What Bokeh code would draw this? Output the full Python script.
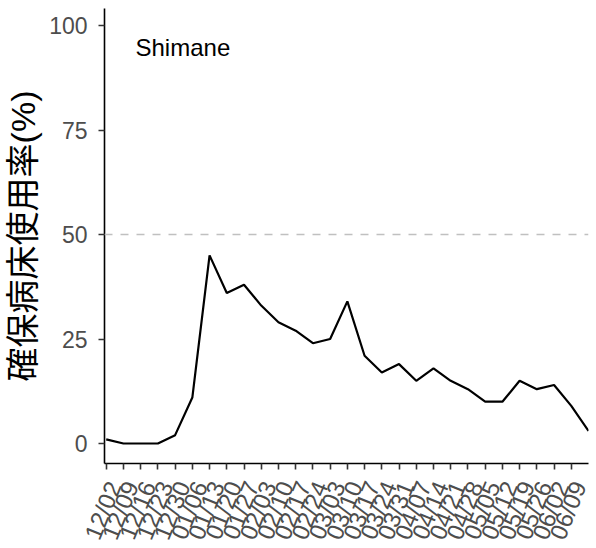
from bokeh.plotting import figure
from bokeh.models import FixedTicker, Span, Label, Range1d, LinearAxis
from bokeh.embed import file_html
from bokeh.resources import INLINE
import math

week_labels = ["12/02", "12/09", "12/16", "12/23", "12/30", "01/06", "01/13", "01/20",
               "01/27", "02/03", "02/10", "02/17", "02/24", "03/03", "03/10", "03/17",
               "03/24", "03/31", "04/07", "04/14", "04/21", "04/28", "05/05", "05/12",
               "05/19", "05/26", "06/02", "06/09"]
usage = [1, 0, 0, 0, 2, 11, 45, 36, 38, 33, 29, 27, 24, 25, 34, 21, 17, 19, 15, 18,
         15, 13, 10, 10, 15, 13, 14, 9, 3]
week_index = list(range(len(usage)))
y_ticks = [0, 25, 50, 75, 100]
threshold = 50
region = "Shimane"
y_title = "確保病床使用率(%)"

x0, x1 = -0.1, 28.0
shift = 0.46
p = figure(frame_width=484, frame_height=455, output_backend="svg", toolbar_location=None,
           x_range=Range1d(x0, x1), y_range=Range1d(-4.78, 104.07),
           min_border_left=104, min_border_right=4, min_border_top=8, min_border_bottom=0)
p.extra_x_ranges = {"lab": Range1d(x0 - shift, x1 - shift)}
p.outline_line_color = None
p.xgrid.visible = False
p.ygrid.visible = False

p.add_layout(Span(location=threshold, dimension="width", line_color="#c0c0c0",
                  line_dash="8 8", line_width=1.6))
p.line(week_index, usage, line_color="black", line_width=2.2)

p.add_layout(Label(x=1.7, y=94.7, text=region, text_font="Liberation Sans",
                   text_font_size="24px", text_color="black", text_baseline="middle"))

# y axis
ya = p.yaxis[0]
ya.axis_line_color = "black"
ya.axis_line_width = 1.6
ya.major_tick_line_color = "#333333"
ya.major_tick_line_width = 1.6
ya.major_tick_in = 0
ya.major_tick_out = 6
ya.minor_tick_line_color = None
ya.major_label_text_color = "#4d4d4d"
ya.major_label_text_font = "Liberation Sans"
ya.ticker = FixedTicker(ticks=y_ticks)
ya.major_label_text_font_size = "23px"
ya.major_label_standoff = 11
ya.axis_label = y_title
ya.axis_label_text_font = "Liberation Sans, Noto Sans CJK JP"
ya.axis_label_text_font_size = "34px"
ya.axis_label_text_font_style = "normal"
ya.axis_label_text_color = "black"
ya.axis_label_standoff = 4

# main x axis: line + tick marks only (ticks drawn as minor ticks, so no labels)
xa = p.xaxis[0]
xa.ticker = FixedTicker(ticks=[], minor_ticks=list(range(len(week_labels))))
xa.axis_line_color = "black"
xa.axis_line_width = 1.6
xa.major_tick_line_color = None
xa.minor_tick_line_color = "#333333"
xa.minor_tick_line_width = 1.6
xa.minor_tick_in = 0
xa.minor_tick_out = 6
xa.major_label_standoff = 0

# label axis (same scale, labels offset like the reference)
lab_axis = LinearAxis(x_range_name="lab",
                      ticker=FixedTicker(ticks=list(range(len(week_labels)))),
                      major_label_overrides={i: s for i, s in enumerate(week_labels)},
                      axis_line_color=None, major_tick_line_color=None,
                      minor_tick_line_color=None, major_tick_in=0, major_tick_out=0,
                      major_label_orientation=math.radians(68),
                      major_label_text_font="Liberation Sans",
                      major_label_text_font_size="24px",
                      major_label_text_color="#4d4d4d",
                      major_label_standoff=13)
p.add_layout(lab_axis, "below")

open("out.html", "w").write(file_html(p, INLINE))
